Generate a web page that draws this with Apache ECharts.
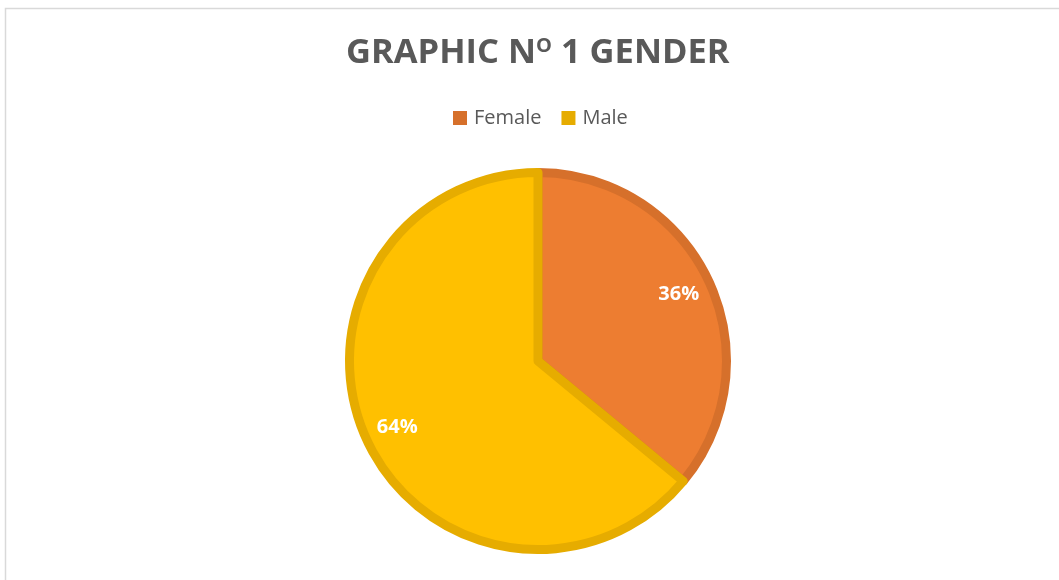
<!DOCTYPE html>
<html>
<head>
<meta charset="utf-8">
<script src="https://cdn.jsdelivr.net/npm/echarts@6/dist/echarts.min.js"></script>
<style>
html,body{margin:0;padding:0;background:#fff;}
#chart{width:1059px;height:580px;}
</style>
</head>
<body>
<div id="chart"></div>
<script>
const categories = ['Female', 'Male'];
const values = [36, 64];
const fillColors = ['#ED7D31', '#FFC000'];
const edgeColors = ['#D6702B', '#E6AC00'];

const chart = echarts.init(document.getElementById('chart'));
const FONT = '"Open Sans", sans-serif';

const mainData = categories.map((c, i) => ({
  name: c, value: values[i],
  itemStyle: { color: fillColors[i], borderColor: edgeColors[i], borderWidth: 9 }
}));
const labelData = categories.map((c, i) => ({ name: c, value: values[i] }));

chart.setOption({
  backgroundColor: '#fff',
  animation: false,
  graphic: [{
    type: 'rect', silent: true, z: -10,
    shape: { x: 5.5, y: 8.5, width: 1100, height: 700 },
    style: { fill: 'none', stroke: '#D9D9D9', lineWidth: 1.5 }
  }],
  title: {
    text: 'GRAPHIC N{sup|O} 1 GENDER',
    left: 341,
    top: 31,
    textStyle: {
      fontFamily: FONT, fontWeight: 'bold', fontSize: 34.5, color: '#595959',
      rich: {
        sup: { fontFamily: FONT, fontWeight: 'bold', fontSize: 20, color: '#595959', verticalAlign: 'top', padding: [0, 0, 12, 0] }
      }
    }
  },
  legend: {
    top: 103,
    left: 448,
    itemWidth: 14, itemHeight: 14, itemGap: 20,
    icon: 'rect',
    textStyle: { fontFamily: FONT, fontSize: 20, color: '#595959', padding: [0, 0, 0, 2] },
    data: categories.map((c, i) => ({ name: c, itemStyle: { color: edgeColors[i], borderWidth: 0 } }))
  },
  series: [{
    type: 'pie',
    center: [538, 361],
    radius: [0, 188.5],
    startAngle: 90,
    clockwise: true,
    silent: true,
    label: { show: false },
    labelLine: { show: false },
    emphasis: { disabled: true },
    data: mainData
  }, {
    type: 'pie',
    center: [538, 361],
    radius: [112, 193],
    startAngle: 90,
    clockwise: true,
    silent: true,
    itemStyle: { color: 'rgba(0,0,0,0)', borderWidth: 0 },
    label: {
      show: true, position: 'inside',
      formatter: p => Math.round(p.percent) + '%',
      fontFamily: FONT, fontWeight: 'bold', fontSize: 20, color: '#fff'
    },
    labelLine: { show: false },
    emphasis: { disabled: true },
    data: labelData
  }]
});
</script>
</body>
</html>
